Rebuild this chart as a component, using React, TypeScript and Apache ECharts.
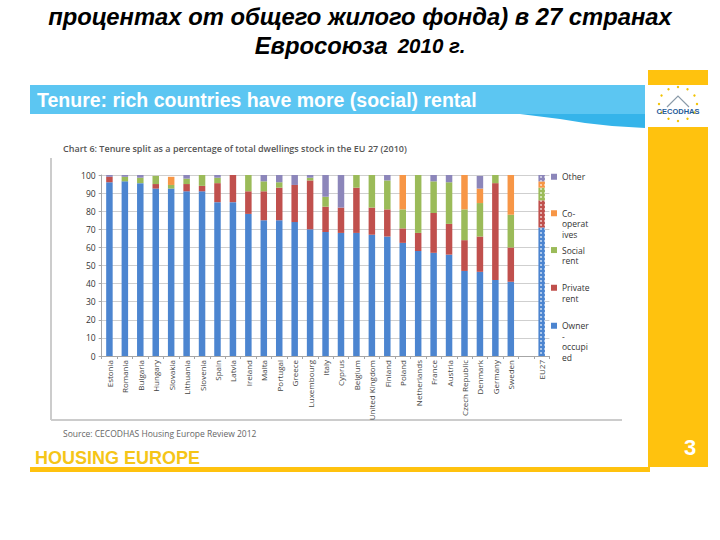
import { useEffect, useRef } from "react";
import * as echarts from "echarts";

const countries = [
  "Estonia", "Romania", "Bulgaria", "Hungary", "Slovakia", "Lithuania", "Slovenia",
  "Spain", "Latvia", "Ireland", "Malta", "Portugal", "Greece", "Luxembourg", "Italy",
  "Cyprus", "Belgium", "United Kingdom", "Finland", "Poland", "Netherlands", "France",
  "Austria", "Czech Republic", "Denmark", "Germany", "Sweden", "", "EU27",
];

const ownerOccupied = [96, 96.5, 95.5, 92.5, 92.5, 91, 91, 85, 85, 78.5, 75, 75, 74, 70, 68.5, 68, 68, 67, 66, 62.5, 58, 57, 56, 47, 46.5, 42, 41, null, 71];
const privateRent = [3, 0, 0, 2.5, 0, 4, 3, 10.5, 15, 12.5, 16, 18, 20.5, 27, 14, 14, 25, 15, 15, 8, 10, 22, 17, 17, 19.5, 53.5, 19, null, 15];
const socialRent = [0, 2.5, 3, 4.5, 2, 3, 6, 3, 0, 9, 5.5, 3, 0, 1.5, 5.5, 0, 7, 18, 16, 10.5, 32, 17.5, 23, 17, 18.5, 4.5, 18, null, 7];
const cooperatives = [0, 0, 0, 0, 4.5, 0, 0, 0, 0, 0, 0, 0, 0, 0, 0, 0, 0, 0, 0, 19, 0, 0, 0, 19, 8, 0, 22, null, 3.5];
const other = [1, 1, 1.5, 0, 0, 2, 0, 1.5, 0, 0, 3.5, 4, 5.5, 1.5, 12, 18, 0, 0, 3, 0, 0, 3.5, 4, 0, 7, 0, 0, null, 3.5];

const seriesNames = ["Owner-occupied", "Private rent", "Social rent", "Co-operatives", "Other"];
const seriesColors = ["#4C85D0", "#C0504D", "#9BBB59", "#F79646", "#8C86BA"];
const seriesValues = [ownerOccupied, privateRent, socialRent, cooperatives, other];

const legendLabels: Record<string, string> = {
  "Other": "Other",
  "Co-operatives": "\n\nCo-\noperat\nives",
  "Social rent": "\nSocial\nrent",
  "Private rent": "\nPrivate\nrent",
  "Owner-occupied": "\n\n\nOwner\n-\noccupi\ned",
};
const legendTops: Record<string, number> = {
  "Other": 171.5,
  "Co-operatives": 187,
  "Social rent": 234.3,
  "Private rent": 272,
  "Owner-occupied": 289,
};

const yMin = 0;
const yMax = 100;
const yInterval = 10;

export default function App() {
  const ref = useRef<HTMLDivElement>(null);

  useEffect(() => {
    if (!ref.current) return;
    const chart = echarts.init(ref.current, undefined, { renderer: "svg" });

    const eu27Index = countries.indexOf("EU27");
    const decal = {
      symbol: "circle",
      symbolSize: 0.8,
      color: "rgba(255,255,255,0.85)",
      dashArrayX: 2,
      dashArrayY: 2,
    };

    const series = seriesNames.map((name, si) => ({
      name,
      type: "bar",
      stack: "tenure",
      barWidth: 6.5,
      itemStyle: { color: seriesColors[si] },
      data: seriesValues[si].map((v, i) =>
        i === eu27Index ? { value: v, itemStyle: { decal } } : v
      ),
    }));

    const legends = seriesNames.map((name) => ({
      show: true,
      data: [name],
      left: 551,
      top: legendTops[name],
      orient: "vertical",
      padding: 0,
      itemWidth: 6,
      itemHeight: 6,
      itemGap: 0,
      icon: "rect",
      formatter: (n: string) => legendLabels[n] ?? n,
      textStyle: { fontSize: 8.5, lineHeight: 10.5, color: "#333", fontFamily: "Open Sans" },
    }));

    // logo stars
    const stars: any[] = [];
    for (let k = 0; k < 12; k++) {
      const a = (k / 12) * Math.PI * 2;
      stars.push({
        type: "circle",
        shape: { cx: 678 + Math.cos(a) * 19, cy: 104 + Math.sin(a) * 17, r: 1.2 },
        style: { fill: "#F2C200" },
        silent: true,
      });
    }

    chart.setOption({
      animation: false,
      backgroundColor: "#ffffff",
      grid: { left: 101.7, right: 170.6, top: 175, bottom: 184, containLabel: false },
      legend: legends,
      xAxis: {
        type: "category",
        data: countries,
        axisLine: { show: true, lineStyle: { color: "#a6a6a6" } },
        axisTick: { show: true, length: 3, lineStyle: { color: "#a6a6a6" } },
        axisLabel: {
          interval: 0,
          rotate: 90,
          fontSize: 8,
          color: "#444",
          margin: 4,
          fontFamily: "Open Sans",
        },
      },
      yAxis: {
        type: "value",
        min: yMin,
        max: yMax,
        interval: yInterval,
        axisLine: { show: true, lineStyle: { color: "#a6a6a6" } },
        axisTick: { show: true, length: 3, lineStyle: { color: "#a6a6a6" } },
        axisLabel: { fontSize: 8.5, color: "#333", margin: 6, fontFamily: "Open Sans" },
        splitLine: { show: true, lineStyle: { color: "#cfcfcf" } },
      },
      series,
      graphic: [
        {
          type: "text",
          x: 360,
          y: 16,
          silent: true,
          style: {
            text: "процентах от общего жилого фонда) в 27 странах",
            fontFamily: "Liberation Sans",
            fontWeight: "bold",
            fontStyle: "italic",
            fontSize: 23.8,
            fill: "#000",
            align: "center",
            verticalAlign: "middle",
          },
        },
        {
          type: "text",
          x: 360,
          y: 45,
          silent: true,
          style: {
            text: "{a|Евросоюза}   {b|2010 г.}",
            align: "center",
            verticalAlign: "middle",
            rich: {
              a: { fontFamily: "Liberation Sans", fontWeight: "bold", fontStyle: "italic", fontSize: 23.8, fill: "#000" },
              b: { fontFamily: "Liberation Sans", fontWeight: "bold", fontStyle: "italic", fontSize: 20.5, fill: "#000" },
            },
          },
        },
        // header band
        {
          type: "rect",
          shape: { x: 30, y: 85, width: 615, height: 29 },
          style: { fill: "#5CC6F2" },
          silent: true,
        },
        {
          type: "polygon",
          shape: { points: [[520, 114], [645, 114], [645, 128], [612, 126], [585, 123], [560, 119]] },
          style: { fill: "#35B4EA" },
          silent: true,
        },
        {
          type: "text",
          x: 37,
          y: 100,
          silent: true,
          style: {
            text: "Tenure: rich countries have more (social) rental",
            fontFamily: "Liberation Sans",
            fontWeight: "bold",
            fontSize: 19.5,
            fill: "#ffffff",
            align: "left",
            verticalAlign: "middle",
          },
        },
        // yellow column
        {
          type: "rect",
          shape: { x: 648, y: 70, width: 60, height: 397 },
          style: { fill: "#FFC20E" },
          silent: true,
        },
        {
          type: "rect",
          shape: { x: 648, y: 85, width: 60, height: 42 },
          style: { fill: "#ffffff" },
          silent: true,
        },
        ...stars,
        {
          type: "polyline",
          shape: { points: [[667, 107], [678, 96], [689, 107]] },
          style: { stroke: "#8a9aa8", lineWidth: 1.2, fill: "none" },
          silent: true,
        },
        {
          type: "text",
          x: 678,
          y: 111,
          silent: true,
          style: {
            text: "CECODHAS",
            fontFamily: "Liberation Sans",
            fontWeight: "bold",
            fontSize: 7.5,
            fill: "#1F5C99",
            align: "center",
            verticalAlign: "middle",
          },
        },
        {
          type: "text",
          x: 690,
          y: 447,
          silent: true,
          style: {
            text: "3",
            fontFamily: "Liberation Sans",
            fontWeight: "bold",
            fontSize: 22,
            fill: "#ffffff",
            align: "center",
            verticalAlign: "middle",
          },
        },
        // chart panel shadow
        {
          type: "line",
          shape: { x1: 51, y1: 158, x2: 51, y2: 420 },
          style: { stroke: "#cccccc", lineWidth: 2 },
          silent: true,
        },
        {
          type: "line",
          shape: { x1: 51, y1: 420, x2: 622, y2: 420 },
          style: { stroke: "#cccccc", lineWidth: 2 },
          silent: true,
        },
        {
          type: "text",
          x: 63,
          y: 148,
          silent: true,
          style: {
            text: "Chart 6: Tenure split as a percentage of total dwellings stock in the EU 27 (2010)",
            fontFamily: "Open Sans",
            fontWeight: 600,
            fontSize: 9,
            fill: "#555",
            align: "left",
            verticalAlign: "middle",
          },
        },
        {
          type: "text",
          x: 63,
          y: 433,
          silent: true,
          style: {
            text: "Source: CECODHAS Housing Europe Review 2012",
            fontFamily: "Open Sans",
            fontSize: 8.5,
            fill: "#666",
            align: "left",
            verticalAlign: "middle",
          },
        },
        {
          type: "text",
          x: 35,
          y: 458,
          silent: true,
          style: {
            text: "HOUSING EUROPE",
            fontFamily: "Liberation Sans",
            fontWeight: "bold",
            fontSize: 18,
            fill: "#F5C518",
            align: "left",
            verticalAlign: "middle",
          },
        },
        {
          type: "rect",
          shape: { x: 30, y: 467, width: 620, height: 5 },
          style: { fill: "#FFC20E" },
          silent: true,
        },
      ],
    });

    return () => chart.dispose();
  }, []);

  return (
    <div
      ref={ref}
      style={{ position: "absolute", left: 0, top: 0, width: 720, height: 540 }}
    />
  );
}
